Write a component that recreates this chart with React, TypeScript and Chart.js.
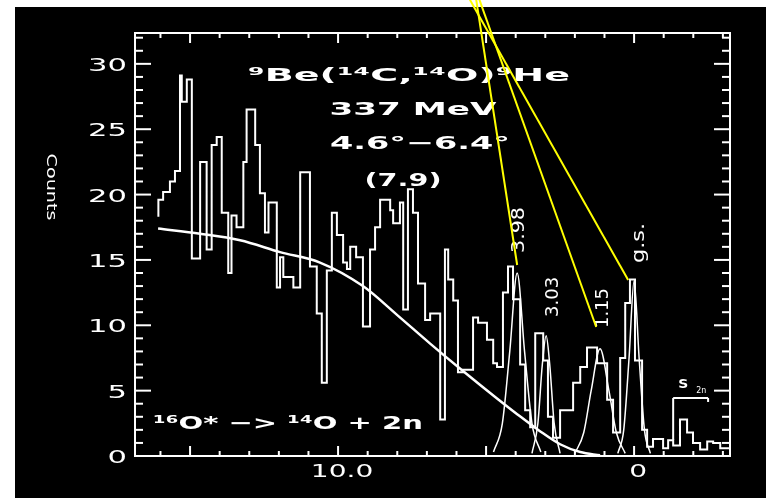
import React, { useEffect, useRef } from "react";
import { Chart, registerables } from "chart.js";

Chart.register(...registerables);

const FONT = '"DejaVu Sans", sans-serif';
const FG = "#ffffff";
const CALLOUT = "#ffff00";

// Measured spectrum: bin edges in excitation energy (MeV) and counts per bin
const binEdges = [
  16.07, 15.91, 15.68, 15.51, 15.34, 15.28, 15.11, 14.94, 14.66, 14.44, 14.27, 14.1, 13.93, 13.71,
  13.6, 13.43, 13.2, 13.09, 12.8, 12.64, 12.47, 12.35, 12.07, 11.96, 11.85, 11.51, 11.28, 10.95,
  10.72, 10.55, 10.38, 10.21, 10.04, 9.83, 9.7, 9.59, 9.39, 9.16, 8.92, 8.75, 8.58, 8.24, 8.14,
  7.91, 7.8, 7.64, 7.47, 7.3, 7.06, 6.89, 6.55, 6.39, 6.28, 6.11, 5.95, 5.78, 5.44, 5.27, 4.97,
  4.76, 4.63, 4.43, 4.26, 4.09, 3.85, 3.68, 3.51, 3.34, 3.07, 2.91, 2.74, 2.5, 2.06, 1.82, 1.59,
  1.25, 0.91, 0.71, 0.47, 0.3, 0.14, -0.03, -0.27, -0.44, -0.64, -0.98, -1.15, -1.32, -1.55,
  -1.79, -1.99, -2.23, -2.47, -2.67, -2.91, -3.14, -3.24,
];
const binCounts = [
  18.3, 19.6, 20.2, 21.0, 21.8, 29.1, 27.1, 28.8, 15.1, 22.5, 15.8, 23.8, 24.4, 18.6, 14.0, 18.4,
  17.5, 22.5, 26.5, 23.8, 20.1, 17.1, 19.4, 12.9, 15.2, 13.7, 12.9, 21.7, 14.5, 10.9, 5.6, 14.2,
  18.6, 16.9, 14.8, 14.3, 16.0, 15.2, 9.9, 15.8, 17.5, 19.6, 18.8, 17.8, 19.4, 11.2, 20.4, 18.6,
  13.2, 10.4, 10.9, 2.8, 15.8, 13.5, 11.9, 6.4, 6.6, 10.6, 10.2, 8.9, 7.1, 6.8, 12.5, 14.5, 12.0,
  7.0, 3.5, 2.2, 9.4, 7.3, 3.0, 1.4, 3.5, 5.6, 6.8, 8.3, 7.1, 4.3, 1.8, 7.5, 11.7, 13.5, 7.3, 2.0,
  0.7, 1.3, 0.6, 1.2, 0.8, 2.8, 1.8, 1.0, 0.5, 1.1, 1.0, 0.6,
];

// Three-body (16O* -> 14O + 2n) background shape
const bgEnergy = [16.08, 14.66, 13.31, 11.96, 10.61, 9.16, 8.01, 6.89, 5.78, 4.63, 3.95, 3.18, 2.5, 1.82, 1.15];
const bgCounts = [17.4, 17.0, 16.5, 15.6, 14.8, 13.0, 10.8, 8.6, 6.5, 4.4, 3.2, 1.9, 0.9, 0.3, 0.05];

// Fitted peak shapes
const peak398Energy = [4.75, 4.45, 4.2, 3.95, 3.7, 3.45, 3.15];
const peak398Counts = [0.3, 2.5, 8.0, 14.0, 8.0, 2.5, 0.3];
const peak303Energy = [3.45, 3.25, 3.1, 2.97, 2.85, 2.7, 2.5];
const peak303Counts = [0.2, 2.5, 7.0, 9.2, 7.0, 2.5, 0.2];
const peak115Energy = [2.0, 1.7, 1.45, 1.15, 0.85, 0.6, 0.3];
const peak115Counts = [0.2, 1.8, 5.0, 8.2, 5.0, 1.8, 0.2];
const peakGsEnergy = [0.55, 0.35, 0.17, 0.0, -0.17, -0.35, -0.55];
const peakGsCounts = [0.2, 2.0, 7.5, 13.4, 7.5, 2.0, 0.2];

// Peak labels (vertical text), anchored at the label centre
const peakNames = ["3.98", "3.03", "1.15", "g.s."];
const peakLabelEnergy = [3.92, 2.77, 1.08, -0.14];
const peakLabelCounts = [17.29, 12.17, 11.32, 16.3];

// Yellow pointer lines to the labelled peaks
const calloutFromEnergy = [5.34, 5.24, 5.57];
const calloutFromCounts = [35.0, 35.0, 35.0];
const calloutToEnergy = [3.95, 1.28, 0.2];
const calloutToCounts = [14.61, 9.87, 13.47];

// Two-neutron separation marker
const s2nEnergy = -1.32;
const s2nEndEnergy = -2.5;
const s2nTop = 4.44;
const s2nBottom = 1.22;

// Axes
const xMin = -3.24;
const xMax = 16.86;
const yMin = 0;
const yMax = 32.36;
const yTickValues = [0, 5, 10, 15, 20, 25, 30];
const yTickTexts = ["0", "5", "10", "15", "20", "25", "30"];
const xLabelValues = [10, 0];
const xLabelTexts = ["10.0", "0"];

const pts = (xs: number[], ys: number[]) => xs.map((x, i) => ({ x, y: ys[i] }));

function histogramPoints() {
  const out = binCounts.map((c, i) => ({ x: binEdges[i], y: c }));
  out.push({ x: binEdges[binEdges.length - 1], y: binCounts[binCounts.length - 1] });
  return out;
}

// Draw text fitted horizontally to a given length, centred on (cx, cy)
function fitText(
  ctx: CanvasRenderingContext2D,
  text: string,
  cx: number,
  cy: number,
  size: number,
  len: number,
  rot = 0,
  weight = "normal"
) {
  ctx.save();
  ctx.font = `${weight} ${size}px ${FONT}`;
  const w = ctx.measureText(text).width;
  ctx.translate(cx, cy);
  ctx.rotate(rot);
  ctx.scale(len / w, 1);
  ctx.textAlign = "center";
  ctx.textBaseline = "alphabetic";
  ctx.fillStyle = FG;
  ctx.fillText(text, 0, size * 0.365);
  ctx.restore();
}

function scaledText(
  ctx: CanvasRenderingContext2D,
  text: string,
  x: number,
  cy: number,
  size: number,
  sx: number,
  align: CanvasTextAlign
) {
  ctx.save();
  ctx.font = `${size}px ${FONT}`;
  ctx.translate(x, cy);
  ctx.scale(sx, 1);
  ctx.textAlign = align;
  ctx.textBaseline = "alphabetic";
  ctx.fillStyle = FG;
  ctx.fillText(text, 0, size * 0.365);
  ctx.restore();
}

const backdrop = {
  id: "backdrop",
  beforeDraw(chart: Chart) {
    const { ctx, width, height } = chart;
    ctx.save();
    ctx.fillStyle = "#ffffff";
    ctx.fillRect(0, 0, width, height);
    ctx.fillStyle = "#000000";
    ctx.fillRect(15, 7, width - 15, height - 7);
    ctx.restore();
  },
};

const overlay = {
  id: "overlay",
  afterDraw(chart: Chart) {
    const { ctx, chartArea: a } = chart;
    const xs = chart.scales.x;
    const ys = chart.scales.y;
    const seg = (x1: number, y1: number, x2: number, y2: number) => {
      ctx.beginPath();
      ctx.moveTo(x1, y1);
      ctx.lineTo(x2, y2);
      ctx.stroke();
    };

    ctx.save();
    ctx.strokeStyle = FG;
    ctx.lineWidth = 2;
    ctx.strokeRect(a.left, a.top, a.right - a.left, a.bottom - a.top);

    // inward tick marks on all four sides
    for (let v = Math.ceil(yMin); v <= Math.floor(yMax); v++) {
      const y = ys.getPixelForValue(v);
      const len = v % 5 === 0 ? 16 : 8;
      seg(a.left, y, a.left + len, y);
      seg(a.right, y, a.right - len, y);
    }
    for (let e = Math.ceil(xMin); e <= Math.floor(xMax); e++) {
      const x = xs.getPixelForValue(e);
      const len = e % 5 === 0 ? 10 : 5;
      seg(x, a.bottom, x, a.bottom - len);
      seg(x, a.top, x, a.top + len);
    }

    // tick labels
    yTickValues.forEach((v, i) => {
      scaledText(ctx, yTickTexts[i], a.left - 8, ys.getPixelForValue(v) + 1, 17, 1.8, "right");
    });
    xLabelValues.forEach((v, i) => {
      scaledText(ctx, xLabelTexts[i], xs.getPixelForValue(v) + 4, a.bottom + 15, 17, 1.65, "center");
    });

    // axis title
    fitText(ctx, "Counts", 52, 187, 14, 67, Math.PI / 2);

    // reaction annotations
    fitText(ctx, "⁹Be(¹⁴C,¹⁴O)⁹He", 409, 74, 18, 322, 0, "bold");
    fitText(ctx, "337 MeV", 413, 108, 18, 167, 0, "bold");
    fitText(ctx, "4.6°−6.4°", 420, 142, 18, 180, 0, "bold");
    fitText(ctx, "(7.9)", 403, 180, 17, 77, 0, "bold");
    fitText(ctx, "¹⁶O* −> ¹⁴O + 2n", 288, 422, 18, 270, 0, "bold");

    // peak labels
    peakNames.forEach((name, i) => {
      const cx = xs.getPixelForValue(peakLabelEnergy[i]);
      const cy = ys.getPixelForValue(peakLabelCounts[i]);
      fitText(ctx, name, cx, cy, 17, name === "3.98" ? 46 : 40, -Math.PI / 2);
    });

    // S2n marker
    const sx0 = xs.getPixelForValue(s2nEnergy);
    const sx1 = xs.getPixelForValue(s2nEndEnergy);
    const sy0 = ys.getPixelForValue(s2nTop);
    const sy1 = ys.getPixelForValue(s2nBottom);
    ctx.lineWidth = 2;
    seg(sx0, sy1, sx0, sy0);
    seg(sx0, sy0, sx1, sy0);
    seg(sx1, sy0, sx1, sy0 + 4);
    fitText(ctx, "S", sx0 + 10, sy0 - 15, 13, 10, 0, "bold");
    fitText(ctx, "2n", sx0 + 28, sy0 - 8, 9, 10);

    // yellow pointer lines
    ctx.strokeStyle = CALLOUT;
    ctx.lineWidth = 2;
    calloutFromEnergy.forEach((e, i) => {
      seg(
        xs.getPixelForValue(e),
        ys.getPixelForValue(calloutFromCounts[i]),
        xs.getPixelForValue(calloutToEnergy[i]),
        ys.getPixelForValue(calloutToCounts[i])
      );
    });
    ctx.restore();
  },
};

export default function App() {
  const canvasRef = useRef<HTMLCanvasElement | null>(null);

  useEffect(() => {
    const canvas = canvasRef.current;
    if (!canvas) return;
    const fitLine = (xs: number[], ys: number[], width: number) => ({
      data: pts(xs, ys),
      borderColor: FG,
      borderWidth: width,
      pointRadius: 0,
      fill: false,
      cubicInterpolationMode: "monotone" as const,
    });
    const chart = new Chart(canvas, {
      type: "line",
      data: {
        datasets: [
          {
            data: histogramPoints(),
            borderColor: FG,
            borderWidth: 2,
            pointRadius: 0,
            fill: false,
            stepped: "after",
          },
          fitLine(bgEnergy, bgCounts, 2.5),
          fitLine(peak398Energy, peak398Counts, 1.5),
          fitLine(peak303Energy, peak303Counts, 1.5),
          fitLine(peak115Energy, peak115Counts, 1.5),
          fitLine(peakGsEnergy, peakGsCounts, 1.5),
        ],
      },
      options: {
        responsive: false,
        animation: false,
        devicePixelRatio: 1,
        parsing: false,
        layout: { padding: { top: 33, right: 36, left: 0, bottom: 0 } },
        plugins: { legend: { display: false }, tooltip: { enabled: false } },
        scales: {
          x: {
            type: "linear",
            reverse: true,
            min: xMin,
            max: xMax,
            grid: { display: false },
            border: { display: false },
            ticks: { display: false },
            afterFit: (s: any) => {
              s.height = 42;
            },
          },
          y: {
            type: "linear",
            min: yMin,
            max: yMax,
            grid: { display: false },
            border: { display: false },
            ticks: { display: false },
            afterFit: (s: any) => {
              s.width = 135;
            },
          },
        },
      },
      plugins: [backdrop, overlay],
    });
    return () => chart.destroy();
  }, []);

  return (
    <div style={{ position: "fixed", left: 0, top: 0, width: 766, height: 498 }}>
      <canvas ref={canvasRef} width={766} height={498} style={{ display: "block" }} />
    </div>
  );
}
